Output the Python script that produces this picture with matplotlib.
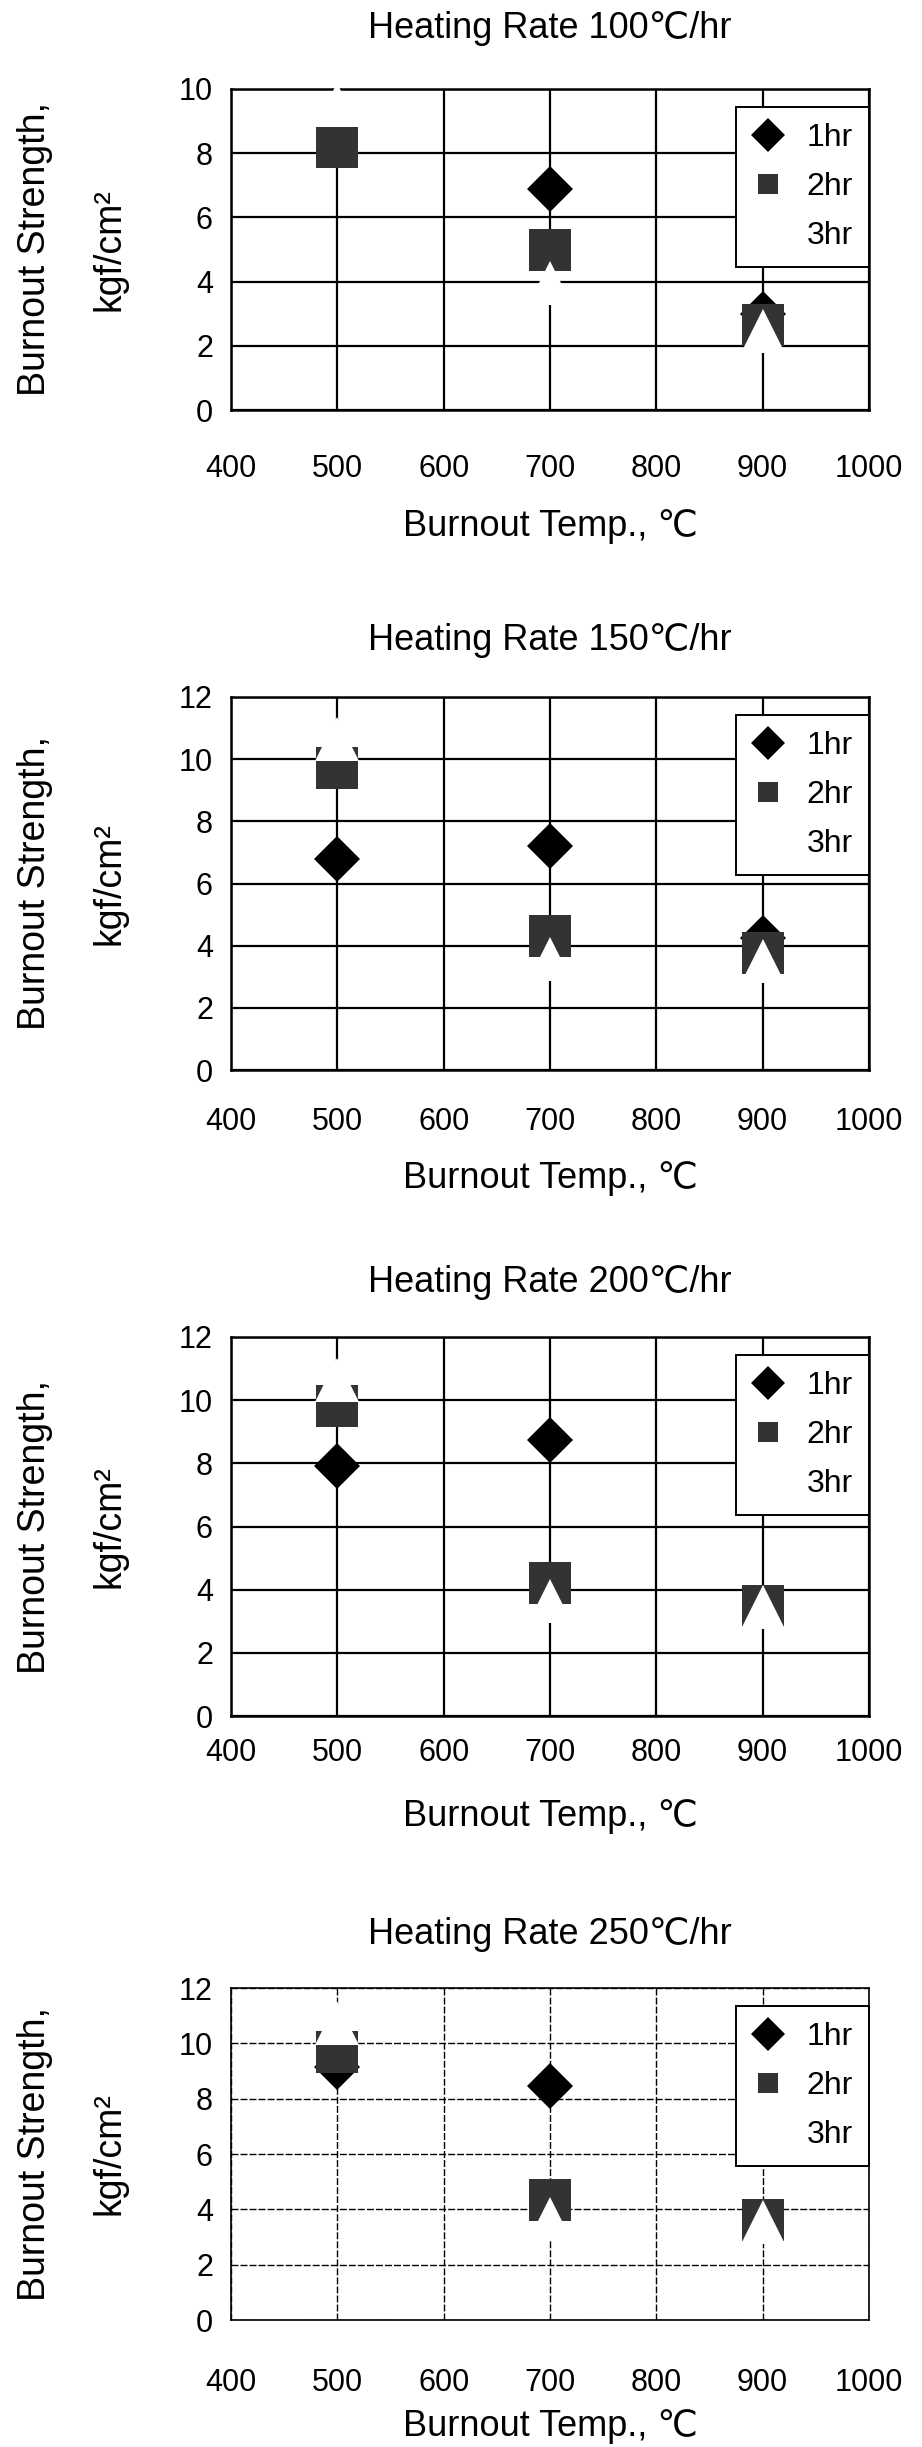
import numpy as np
import matplotlib
matplotlib.use("Agg")
import matplotlib.pyplot as plt

# burnout strength (kgf/cm2) vs burnout temperature, one panel per heating rate
temps = [500, 700, 900]
rates = ["100", "150", "200", "250"]
ymax = [10, 12, 12, 12]
nan = np.nan
str_1hr = [[nan, 6.9, 3.0], [6.8, 7.2, 4.25], [7.9, 8.75, nan], [9.15, 8.45, nan]]
str_2hr = [[8.2, 5.0, 2.65], [9.73, 4.31, 3.77], [9.83, 4.22, 3.48], [9.7, 4.35, 3.6]]
str_3hr = [[9.5, 3.95, 2.45], [10.65, 3.56, 3.5], [10.65, 3.65, 3.46], [10.72, 3.65, 3.55]]
xticks = [400, 500, 600, 700, 800, 900, 1000]

plt.rcParams["font.family"] = ["Liberation Sans", "DejaVu Sans"]

W, H = 922, 2447
fig = plt.figure(figsize=(W / 100, H / 100), dpi=100)

# axes boxes in pixels: top, bottom
boxes = [(89, 410), (697, 1070), (1337, 1716), (1988, 2320)]
tick_off = [55, 48, 33, 59]
xlab_off = [117, 108, 101, 107]
title_off = [61, 57, 55, 54]
left, right = 231, 869

tick_fs = 22
for i, (top, bot) in enumerate(boxes):
    ax = fig.add_axes([left / W, 1 - bot / H, (right - left) / W, (bot - top) / H])
    hpx = bot - top
    ax.set_xlim(400, 1000)
    ax.set_ylim(0, ymax[i])
    ax.set_xticks(xticks)
    ax.set_yticks(range(0, ymax[i] + 1, 2))
    ax.set_axisbelow(True)
    if i == 3:
        ax.grid(True, color="black", lw=1.0, ls=(0, (5, 1.5)))
    else:
        ax.grid(True, color="black", lw=1.6)
    for s in ax.spines.values():
        s.set_linewidth(1.8 if i < 3 else 1.2)
    ax.tick_params(length=0, labelsize=tick_fs)
    ax.tick_params(axis="x", pad=(tick_off[i] - 11) / 1.389)
    ax.tick_params(axis="y", pad=13)

    ax.plot(temps, str_1hr[i], ls="none", marker="D", ms=23, color="black",
            mew=0, label="1hr", zorder=3)
    ax.plot(temps, str_2hr[i], ls="none", marker="s", ms=30, color="#333333",
            mew=0, label="2hr", zorder=3.2)
    ax.plot(temps, str_3hr[i], ls="none", marker="^", ms=32, color="white",
            mew=0, label="3hr", zorder=4, clip_on=False)

    leg = ax.legend(loc="upper right", bbox_to_anchor=(1.0, 1 - 18 / hpx), fontsize=23,
                    frameon=True, fancybox=False, framealpha=1, edgecolor="black",
                    labelspacing=0.6, handlelength=1.0, handletextpad=0.7,
                    borderpad=0.5, borderaxespad=0.0)
    leg.get_frame().set_linewidth(1.4)
    leg.set_zorder(6)
    for h, ms in zip(leg.legend_handles, [17, 15, 16]):
        h.set_markersize(ms)

    ax.text(0.5, 1 + title_off[i] / hpx, "Heating Rate " + rates[i] + "℃/hr",
            transform=ax.transAxes, ha="center", va="center", fontsize=26)
    ax.text(0.5, -xlab_off[i] / hpx, "Burnout Temp., ℃", transform=ax.transAxes,
            ha="center", va="center", fontsize=26)
    ax.text(-196 / 638, 0.5, "Burnout Strength,", transform=ax.transAxes,
            ha="center", va="center", rotation=90, fontsize=27)
    ax.text(-122 / 638, 0.5, "kgf/cm²", transform=ax.transAxes,
            ha="center", va="center", rotation=90, fontsize=27)

fig.savefig("out.png", dpi=100, facecolor="white")
